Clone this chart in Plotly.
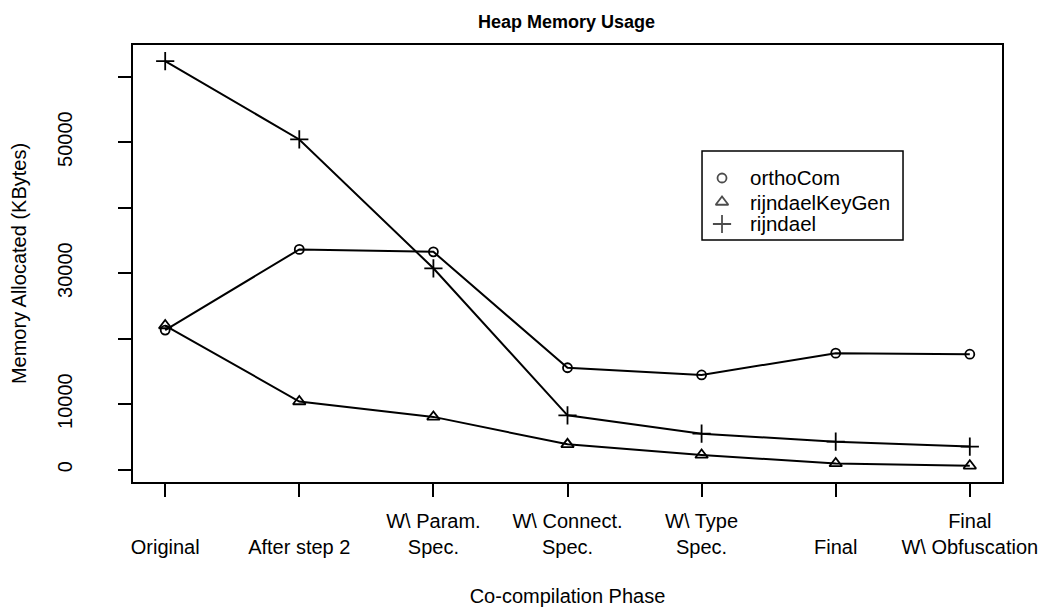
import plotly.graph_objects as go

phases = ["<br>Original", "<br>After step 2", "W\\ Param.<br>Spec.", "W\\ Connect.<br>Spec.",
          "W\\ Type<br>Spec.", "<br>Final", "Final<br>W\\ Obfuscation"]
x_pos = [1, 2, 3, 4, 5, 6, 7]
orthoCom = [21300, 33620, 33250, 15550, 14450, 17780, 17620]
rijndaelKeyGen = [22000, 10400, 8050, 3860, 2240, 940, 580]
rijndael = [62360, 50410, 30740, 8290, 5480, 4260, 3510]
y_ticks = [0, 10000, 20000, 30000, 40000, 50000, 60000]
y_ticktext = ["0", "10000", "", "30000", "", "50000", ""]
series_names = ["orthoCom", "rijndaelKeyGen", "rijndael"]

symbols = ["circle-open", "triangle-up-open", "cross-thin-open"]
sizes = [9, 11, 13]
series_vals = [orthoCom, rijndaelKeyGen, rijndael]

FONT = "Liberation Sans, Arial, Helvetica, sans-serif"
fig = go.Figure()
for name, vals, sym, sz in zip(series_names, series_vals, symbols, sizes):
    fig.add_trace(go.Scatter(
        x=x_pos, y=vals, mode="lines+markers", name=name, showlegend=False,
        line=dict(color="black", width=2),
        marker=dict(symbol=sym, size=sz, color="black", line=dict(color="black", width=1.8)),
    ))

# Legend (drawn in R style: symbols only, inside a box)
leg_x0, leg_x1, leg_y0, leg_y1 = 0.6548, 0.8861, 0.5538, 0.7574
leg_rows = [0.6957, 0.6407, 0.5904]
leg_sym_x = 0.6778
leg_txt_x = 0.7077
fig.add_shape(type="rect", xref="x domain", yref="y domain", x0=leg_x0, x1=leg_x1, y0=leg_y0, y1=leg_y1,
              line=dict(color="black", width=1.5), fillcolor="white", layer="below")
fig.add_trace(go.Scatter(
    x=[leg_sym_x] * 3, y=leg_rows, xaxis="x2", yaxis="y2", mode="markers", showlegend=False,
    hoverinfo="skip",
    marker=dict(symbol=symbols, size=sizes, color="black", line=dict(color="black", width=1.8)),
))
for name, yr in zip(series_names, leg_rows):
    fig.add_annotation(text=name, xref="x domain", yref="y domain", x=leg_txt_x, y=yr,
                       xanchor="left", yanchor="middle", showarrow=False, font=dict(size=20.5))

allv = orthoCom + rijndaelKeyGen + rijndael
lo, hi = min(allv), max(allv)
ext = 0.04 * (hi - lo)

fig.update_layout(
    width=1046, height=611,
    margin=dict(l=125, r=52, t=37, b=137),
    paper_bgcolor="white", plot_bgcolor="white",
    font=dict(family=FONT, color="black", size=20),
    title=dict(text="<b>Heap Memory Usage</b>", x=0.534, xanchor="center", y=0.977, yanchor="middle",
               font=dict(size=18)),
    showlegend=False,
    xaxis=dict(range=[0.76, 7.24], tickvals=x_pos, ticktext=phases, showgrid=False, zeroline=False,
               showline=True, mirror=True, linecolor="black", linewidth=1.5,
               ticks="outside", ticklen=13, tickwidth=1.5, tickcolor="black",
               ticklabelstandoff=7, automargin=False,
               title=dict(text="Co-compilation Phase", standoff=32, font=dict(size=20))),
    yaxis=dict(range=[lo - ext, hi + ext], tickvals=y_ticks, ticktext=y_ticktext, tickangle=-90,
               showgrid=False, zeroline=False, showline=True, mirror=True, linecolor="black",
               linewidth=1.5, ticks="outside", ticklen=13, tickwidth=1.5, tickcolor="black",
               ticklabelstandoff=38, automargin=False,
               title=dict(text="Memory Allocated (KBytes)", standoff=24, font=dict(size=20))),
    xaxis2=dict(overlaying="x", range=[0, 1], visible=False, fixedrange=True),
    yaxis2=dict(overlaying="y", range=[0, 1], visible=False, fixedrange=True),
)

fig.write_html("out.html")
